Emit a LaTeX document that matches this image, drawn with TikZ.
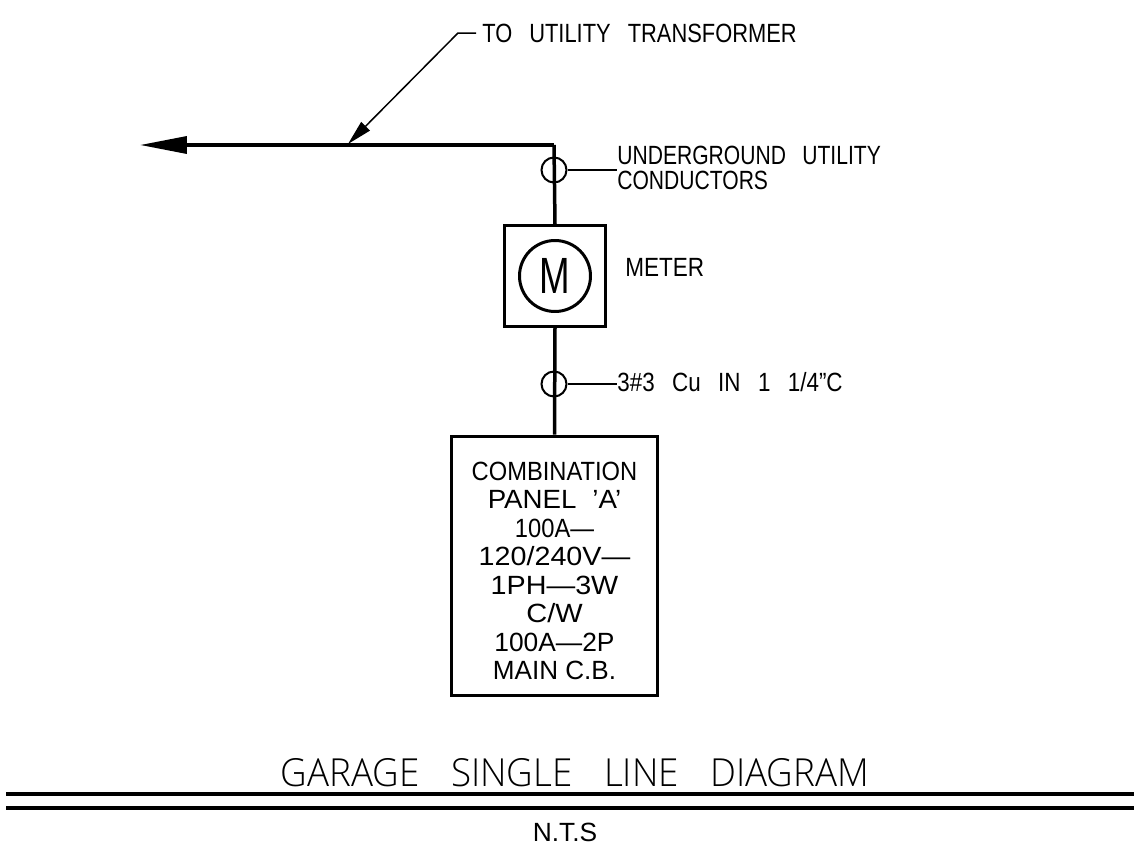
\documentclass[tikz,border=0pt]{standalone}
\usepackage{fontspec}
\usepackage{graphicx}
\setmainfont{Liberation Sans}
\newfontfamily\thinfont{Open Sans Light}
\usepackage{tikz}
\usetikzlibrary{arrows.meta, positioning}
\newcommand{\squeeze}[2]{\scalebox{#1}[1]{#2}}
\tikzset{
  wire/.style={line width=0.07cm},
  thinwire/.style={line width=0.03cm},
  label/.style={inner sep=0pt, anchor=west, font=\fontsize{15}{14.2}\selectfont},
  crossing/.style={draw, circle, line width=0.04cm, minimum size=0.5cm, inner sep=0pt},
}

\begin{document}
\begin{tikzpicture}[x=0.02cm, y=-0.02cm]
\useasboundingbox (0,0) rectangle (1134,845);
\coordinate (end) at (140,145);
\coordinate (corner) at (554,145);
\coordinate (hit) at (348,144);
\coordinate (bend) at (458,33);
\coordinate (stub) at (476,33);
\coordinate (ruleAl) at (6,794);
\coordinate (ruleAr) at (1134,794);
\coordinate (ruleBl) at (6,808);
\coordinate (ruleBr) at (1134,808);
\node[crossing] (c1) at (554,170) {};
\node[crossing] (c2) at (554,384) {};
\node[draw, line width=0.06cm, minimum width=2.02cm, minimum height=2.02cm, inner sep=0pt] (meter) at (555,276) {};
\node[draw, circle, line width=0.06cm, minimum size=1.42cm, inner sep=0pt, font=\fontsize{29}{29}\selectfont] (m) at (555,276) {\squeeze{.72}{M}};
\node[draw, line width=0.06cm, minimum width=4.14cm, minimum height=5.2cm, inner sep=0pt] (panel) at (554.5,566) {};
\node[inner sep=0pt, align=center, font=\fontsize{15}{16.2}\selectfont] (paneltext) at (554.5,571) {\squeeze{.9}{COMBINATION}\\\squeeze{1.05}{PANEL\hspace{.3em} 'A'}\\\squeeze{.9}{100A---}\\\squeeze{1.09}{120/240V---}\\\squeeze{1.09}{1PH---3W}\\\squeeze{1.1}{C/W}\\\squeeze{1}{100A---2P}\\\squeeze{.99}{MAIN C.B.}};
\node[label] (ttl) at (482,33) {\squeeze{.83}{TO\hspace{0.5em} UTILITY\hspace{0.5em} TRANSFORMER}};
\node[label, align=left] (ugc) at (617,168) {\squeeze{.8}{UNDERGROUND\hspace{0.5em} UTILITY}\\\squeeze{.8}{CONDUCTORS}};
\node[label] (mtr) at (625,267) {\squeeze{.855}{METER}};
\node[label] (cab) at (617,382) {\squeeze{.85}{3\#3\hspace{0.5em} Cu\hspace{0.5em} IN\hspace{0.5em} 1\hspace{0.5em} 1/4"C}};
\node[inner sep=0pt, font=\thinfont\fontsize{22}{22}\selectfont] (title) at (575,773) {\squeeze{.95}{GARAGE\hspace{0.6em} SINGLE\hspace{0.6em} LINE\hspace{0.6em} DIAGRAM}};
\node[inner sep=0pt, font=\fontsize{15}{15}\selectfont] (nts) at (565,832) {N.T.S};
% feeder
\draw[wire, -{Triangle[length=0.94cm, width=0.34cm]}] (corner) -- (end);
\draw[wire] (corner) -- (meter.north);
\draw[wire] (meter.south) -- (panel.north);
% leaders
\draw[thinwire, -{Triangle[length=0.5cm, width=0.24cm]}] (stub) -- (bend) -- (hit);
\draw[thinwire] (c1) -- (ugc.west |- c1);
\draw[thinwire] (c2) -- (cab.west |- c2);
% title rules
\draw[wire] (ruleAl) -- (ruleAr);
\draw[wire] (ruleBl) -- (ruleBr);
\end{tikzpicture}
\end{document}
